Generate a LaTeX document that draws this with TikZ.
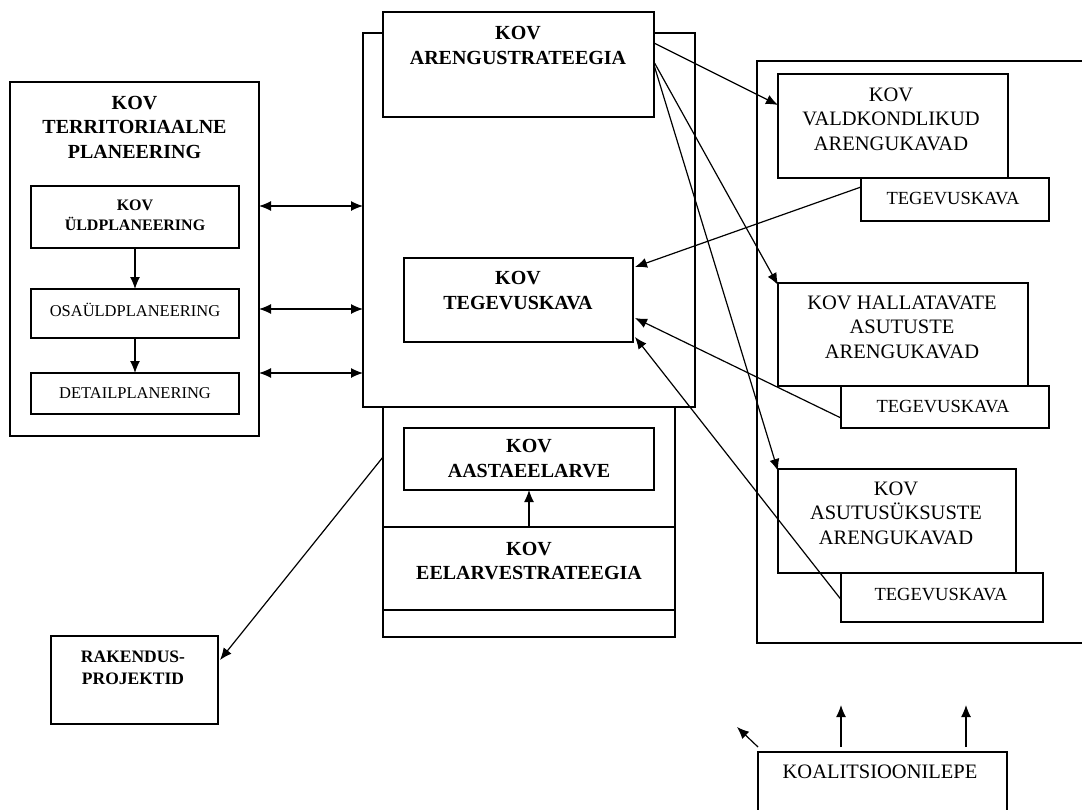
\documentclass[tikz,border=0pt]{standalone}
\usepackage{fontspec}
\setmainfont{Liberation Serif}
\usetikzlibrary{arrows.meta,calc}
\begin{document}
\begin{tikzpicture}[x=1pt,y=-1pt,
 box/.style={draw, line width=1.3pt, inner sep=0pt, outer sep=0pt, fill=white},
 lbl/.style={align=center, inner sep=0pt, font=\fontsize{20.5}{24.5}\selectfont},
 blbl/.style={align=center, inner sep=0pt, font=\fontsize{20}{24.5}\selectfont\bfseries},
 mlbl/.style={align=center, inner sep=0pt, font=\fontsize{18.5}{22}\selectfont},
 sblbl/.style={align=center, inner sep=0pt, font=\fontsize{16}{20}\selectfont\bfseries},
 slbl/.style={align=center, inner sep=0pt, font=\fontsize{16.5}{20}\selectfont},
 arr/.style={line width=1.2pt, -{Latex[length=12pt,width=10pt]}},
 darr/.style={line width=1.2pt, {Latex[length=12pt,width=10pt]}-{Latex[length=12pt,width=10pt]}},
]
\useasboundingbox (0,0) rectangle (1082,809);
\begin{scope}
\clip (0,0) rectangle (1082,809);
% left
\node[box, minimum width=249pt, minimum height=354pt] (terr) at (134.5,259) {};
\node[blbl] (terrt) at (134.5,127) {KOV\\TERRITORIAALNE\\PLANEERING};
\node[box, minimum width=208pt, minimum height=62pt] (uld) at (135,217) {};
\node[sblbl] (uldt) at (135,215) {KOV\\ÜLDPLANEERING};
\node[box, minimum width=208pt, minimum height=49pt] (osa) at (135,313.5) {};
\node[slbl] (osat) at (135,310) {OSAÜLDPLANEERING};
\node[box, minimum width=208pt, minimum height=41pt] (det) at (135,393.5) {};
\node[slbl] (dett) at (135,393) {DETAILPLANERING};
% middle
\node[box, minimum width=332pt, minimum height=374pt] (big) at (529,220) {};
\node[box, minimum width=271pt, minimum height=105pt] (areng) at (518.5,64.5) {};
\node[blbl] (arengt) at (518,45.5) {KOV\\ARENGUSTRATEEGIA};
\node[box, minimum width=229pt, minimum height=84pt] (mid) at (518.5,300) {};
\node[blbl] (midt) at (518,290.5) {KOV\\TEGEVUSKAVA};
\node[box, minimum width=292pt, minimum height=230pt] (eel) at (529,522) {};
\node[box, minimum width=250pt, minimum height=62pt] (aasta) at (529,459) {};
\node[blbl] (aastat) at (529,458.5) {KOV\\AASTAEELARVE};
\node[box, minimum width=292pt, minimum height=83pt] (estrat) at (529,568.5) {};
\node[blbl] (estratt) at (529,561) {KOV\\EELARVESTRATEEGIA};
% rakendus
\node[box, minimum width=167pt, minimum height=88pt] (rak) at (134.5,680) {};
\node[align=center, inner sep=0pt, font=\fontsize{17.5}{22}\selectfont\bfseries] (rakt) at (133,668) {RAKENDUS-\\PROJEKTID};
% right
\node[box, minimum width=338pt, minimum height=582pt] (right) at (926,352) {};
\node[box, minimum width=230pt, minimum height=104pt] (vald) at (893,126) {};
\node[lbl] (valdt) at (891,119) {KOV\\VALDKONDLIKUD\\ARENGUKAVAD};
\node[box, minimum width=188pt, minimum height=43pt] (tk1) at (955,199.5) {};
\node[mlbl] (tk1t) at (953,199) {TEGEVUSKAVA};
\node[box, minimum width=250pt, minimum height=103pt] (hall) at (903,334.5) {};
\node[lbl] (hallt) at (902,327) {KOV HALLATAVATE\\ASUTUSTE\\ARENGUKAVAD};
\node[box, minimum width=208pt, minimum height=42pt] (tk2) at (945,407) {};
\node[mlbl] (tk2t) at (943,407) {TEGEVUSKAVA};
\node[box, minimum width=238pt, minimum height=104pt] (asut) at (897,521) {};
\node[lbl] (asutt) at (896,513) {KOV\\ASUTUSÜKSUSTE\\ARENGUKAVAD};
\node[box, minimum width=202pt, minimum height=49pt] (tk3) at (942,597.5) {};
\node[mlbl] (tk3t) at (941,595) {TEGEVUSKAVA};
% koalitsioon
\node[box, minimum width=249pt, minimum height=78pt] (koal) at (882.5,791) {};
\node[lbl] (koalt) at (880,772) {KOALITSIOONILEPE};
\coordinate (k1) at (841,705);
\coordinate (k2) at (966,705);
\coordinate (k0) at (737,727);
% connectors
\draw[arr] (uld.south) -- (osa.north);
\draw[arr] (osa.south) -- (det.north);
\draw[darr] (terr.east |- 0,206) -- (big.west |- 0,206);
\draw[darr] (terr.east |- 0,309) -- (big.west |- 0,309);
\draw[darr] (terr.east |- 0,373) -- (big.west |- 0,373);
\draw[arr] ($(areng.north east)+(0,31)$) -- ($(vald.west)+(0,-21)$);
\draw[arr] ($(areng.north east)+(0,50)$) -- ($(hall.north west)+(0,2)$);
\draw[arr] ($(areng.north east)+(0,53)$) -- ($(asut.north west)+(0,2)$);
\draw[arr] ($(tk1.north west)+(0,9)$) -- ($(mid.north east)+(2,9)$);
\draw[arr] ($(tk2.south west)+(0,-10)$) -- ($(mid.north east)+(2,60)$);
\draw[arr] ($(tk3.west)+(0,2)$) -- ($(mid.south east)+(2,-5)$);
\draw[arr] (estrat.north) -- (aasta.south);
\draw[arr] ($(eel.north west)+(0,50)$) -- ($(rak.north east)+(2,24)$);
\draw[arr] ($(koal.north west)+(83,-5)$) -- (k1);
\draw[arr] ($(koal.north west)+(208,-5)$) -- (k2);
\draw[arr] ($(koal.north west)+(0,-5)$) -- (k0);
\end{scope}
\end{tikzpicture}
\end{document}
